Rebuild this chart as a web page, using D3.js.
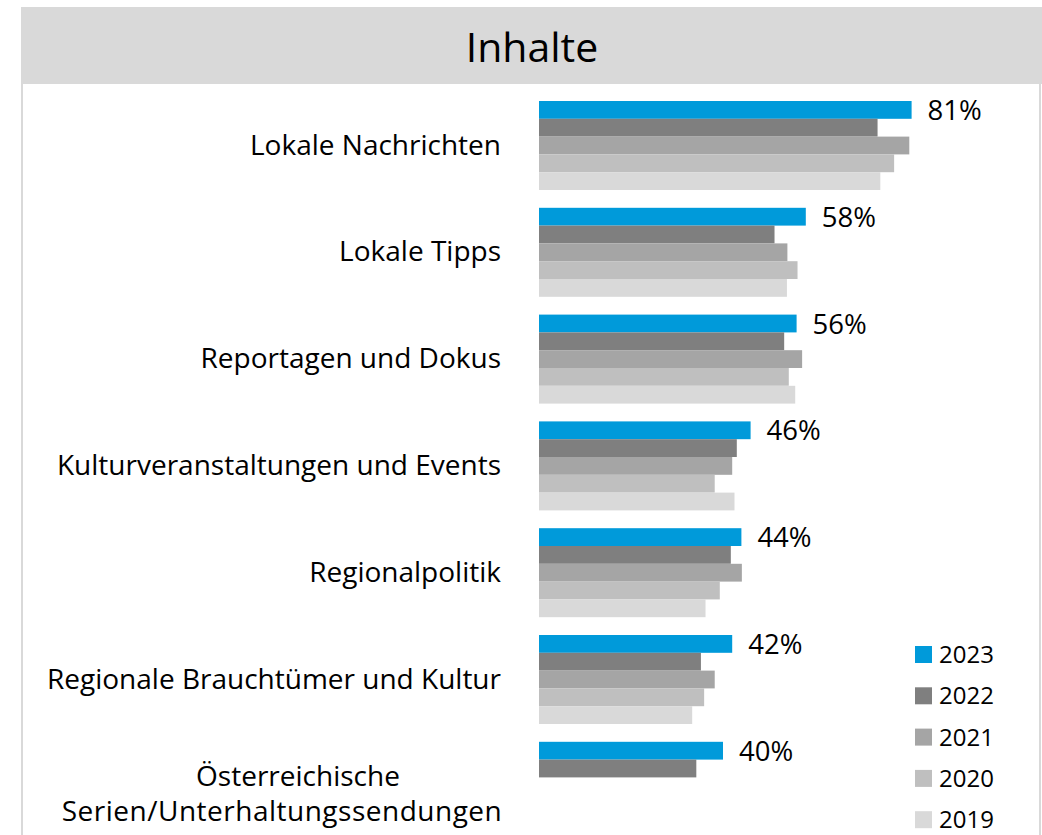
<!DOCTYPE html>
<html>
<head>
<meta charset="utf-8">
<script src="https://cdn.jsdelivr.net/npm/d3@7"></script>
<style>
  body { margin: 0; background: #fff; }
  svg text { font-family: "Open Sans", sans-serif; fill: #000; }
</style>
</head>
<body>
<svg id="canvas" width="1042" height="835"></svg>
<script>
// data
let categories = ['Lokale Nachrichten', 'Lokale Tipps', 'Reportagen und Dokus',
    'Kulturveranstaltungen und Events', 'Regionalpolitik',
    'Regionale Brauchtümer und Kultur', 'Österreichische Serien/Unterhaltungssendungen']
let years = ['2023', '2022', '2021', '2020', '2019']
let values2023 = [81, 58, 56, 46, 44, 42, 40]
let values2022 = [73.6, 51.2, 53.3, 43, 41.7, 35.2, 34.2]
let values2021 = [80.5, 54, 57.2, 42, 44.1, 38.2, null]
let values2020 = [77.2, 56.2, 54.3, 38.2, 39.3, 35.9, null]
let values2019 = [74.2, 53.9, 55.7, 42.5, 36.2, 33.3, null]
let colors = ['#009ada', '#7f7f7f', '#a5a5a5', '#bfbfbf', '#d9d9d9']

let series = [values2023, values2022, values2021, values2020, values2019]

let canvas = d3.select('#canvas')

// frame + header
canvas.append('rect')
    .attr('x', 22).attr('y', 8)
    .attr('width', 1018).attr('height', 900)
    .attr('fill', '#fff')
    .attr('stroke', '#d9d9d9')
    .attr('stroke-width', 2)
canvas.append('rect')
    .attr('x', 21).attr('y', 7)
    .attr('width', 1030).attr('height', 77)
    .attr('fill', '#d9d9d9')
canvas.append('text')
    .text('Inhalte')
    .attr('x', 532).attr('y', 62)
    .attr('text-anchor', 'middle')
    .style('font-size', '41px')

let xScale = d3.scaleLinear().domain([0, 100]).range([539, 999])
let yScale = d3.scaleBand()
    .domain(categories)
    .range([92.1, 839.7])
    .paddingInner(1 / 6)
    .paddingOuter(1 / 12)
let yInner = d3.scaleBand().domain(years).range([0, yScale.bandwidth()])

let rows = []
categories.forEach((cat, i) => {
    years.forEach((yr, j) => {
        if (series[j][i] != null) {
            rows.push({ cat: cat, year: yr, value: series[j][i], color: colors[j] })
        }
    })
})

canvas.selectAll('.bar')
    .data(rows)
    .enter()
    .append('rect')
    .attr('class', 'bar')
    .attr('x', xScale(0))
    .attr('y', (d) => yScale(d.cat) + yInner(d.year))
    .attr('width', (d) => xScale(d.value) - xScale(0))
    .attr('height', yInner.bandwidth())
    .attr('fill', (d) => d.color)

// value labels for 2023
canvas.selectAll('.val')
    .data(categories)
    .enter()
    .append('text')
    .attr('class', 'val')
    .attr('x', (d, i) => xScale(values2023[i]) + 16)
    .attr('y', (d) => yScale(d) + yInner('2023') + yInner.bandwidth() / 2 + 10)
    .text((d, i) => values2023[i] + '%')
    .style('font-size', '27.5px')

// category labels
let labelEnd = xScale(0) - 38
categories.forEach((cat, i) => {
    let mid = yScale(cat) + yScale.bandwidth() / 2
    if (cat.startsWith('Österreichische')) {
        canvas.append('text')
            .attr('x', labelEnd - 203).attr('y', mid)
            .attr('text-anchor', 'middle')
            .style('font-size', '28px')
            .text('Österreichische')
        canvas.append('text')
            .attr('x', labelEnd - 219).attr('y', mid + 35)
            .attr('text-anchor', 'middle')
            .style('font-size', '28px')
            .style('letter-spacing', '0.5px')
            .text('Serien/Unterhaltungssendungen')
    } else {
        canvas.append('text')
            .attr('x', labelEnd).attr('y', mid + 9)
            .attr('text-anchor', 'end')
            .style('font-size', '28px')
            .text(cat)
    }
})

// legend
let legend = canvas.selectAll('.legend')
    .data(years)
    .enter()
    .append('g')
    .attr('class', 'legend')
    .attr('transform', (d, i) => 'translate(915, ' + (646 + i * 41.3) + ')')
legend.append('rect')
    .attr('width', 17).attr('height', 17)
    .attr('fill', (d, i) => colors[i])
legend.append('text')
    .attr('x', 24).attr('y', 17)
    .text((d) => d)
    .style('font-size', '24px')
</script>
</body>
</html>
